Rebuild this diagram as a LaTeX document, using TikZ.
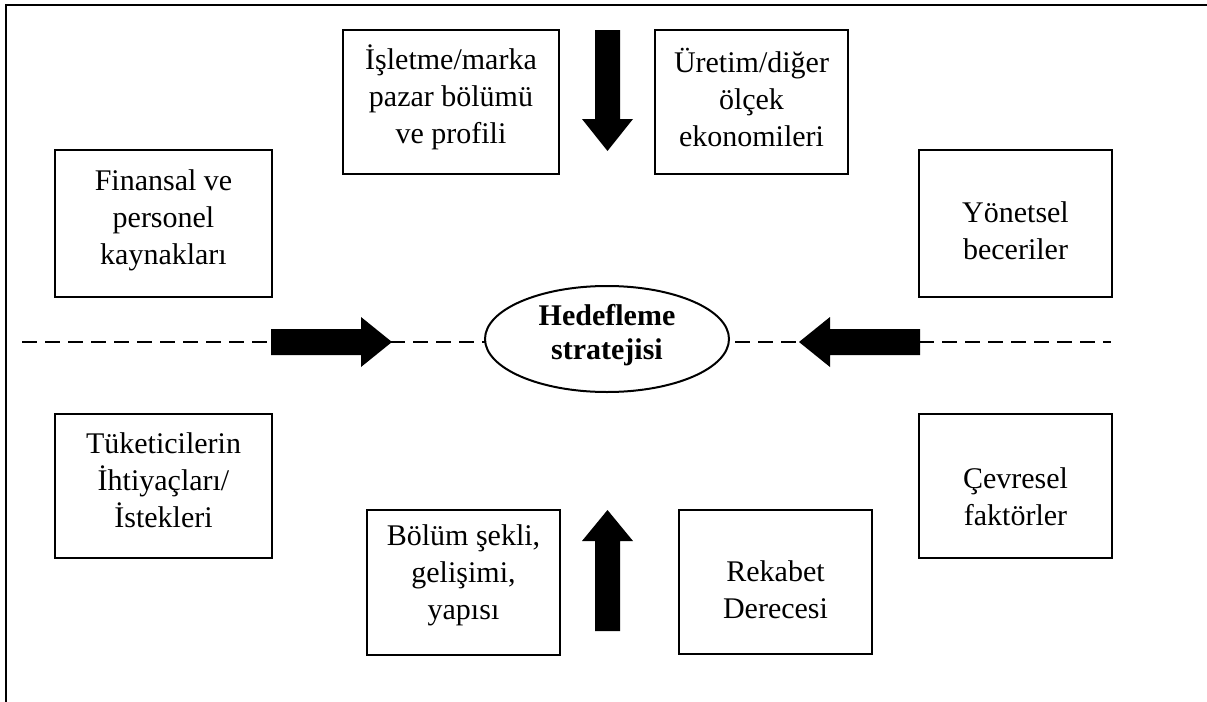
\documentclass[tikz,border=0pt]{standalone}
\usepackage{fontspec}
\setmainfont{Liberation Serif}
\usetikzlibrary{shapes.geometric}
\begin{document}
\begin{tikzpicture}[x=0.5pt,y=-0.5pt,
  frame/.style={line width=1pt},
  box/.style 2 args={draw, line width=1pt, inner sep=0pt,
    minimum width=#1*0.5pt, minimum height=#2*0.5pt},
  lbl/.style={align=center, inner sep=0pt,
    font=\fontsize{15}{18.5}\selectfont},
  core/.style={draw, ellipse, fill=white, line width=1pt, inner sep=0pt,
    minimum width=122pt, minimum height=53pt},
  corelbl/.style={align=center, inner sep=0pt,
    font=\fontsize{15}{17}\selectfont\bfseries},
  axis/.style={line width=1pt, dash pattern=on 7.5pt off 4pt},
  blockarrow/.style={fill=black}]
\useasboundingbox (0,0) rectangle (1207,702);

% open frame: top and left edges only
\coordinate (fr-bl) at (6,702);
\coordinate (fr-tl) at (6,5);
\coordinate (fr-tr) at (1207,5);
\draw[frame] (fr-bl) -- (fr-tl) -- (fr-tr);

% dashed horizontal axis through the centre
\coordinate (ax-l) at (22,342);
\coordinate (ax-r) at (1111,342);
\draw[axis] (ax-l) -- (ax-r);

% factor boxes
\node[box={216}{144}] (isl) at (451,102) {};
\node[box={193}{144}] (ure) at (751.5,102) {};
\node[box={217}{147}] (fin) at (163.5,223.5) {};
\node[box={193}{147}] (yon) at (1015.5,223.5) {};
\node[box={217}{144}] (tuk) at (163.5,486) {};
\node[box={193}{144}] (cev) at (1015.5,486) {};
\node[box={193}{145}] (bol) at (463.5,582.5) {};
\node[box={193}{144}] (rek) at (775.5,582) {};

% box texts
\node[lbl] (isl-t) at (451,97) {İşletme/marka\\pazar bölümü\\ve profili};
\node[lbl] (ure-t) at (751.5,97) {Üretim/diğer\\ölçek\\ekonomileri};
\node[lbl] (fin-t) at (163.5,220) {Finansal ve\\personel\\kaynakları};
\node[lbl] (yon-t) at (1015.5,231) {Yönetsel\\beceriler};
\node[lbl] (tuk-t) at (163.5,480) {Tüketicilerin\\İhtiyaçları/\\İstekleri};
\node[lbl] (cev-t) at (1015.5,497) {Çevresel\\faktörler};
\node[lbl] (bol-t) at (463.5,575) {Bölüm şekli,\\gelişimi,\\yapısı};
\node[lbl] (rek-t) at (775.5,590) {Rekabet\\Derecesi};

% central ellipse
\node[core] (hed) at (607,339) {};
\node[corelbl] (hed-t) at (607,335) {Hedefleme\\stratejisi};

% block arrows pointing at the centre
% from the top
\fill[blockarrow] (595,30) -- (620,30) -- (620,119) -- (633,119)
  -- (607.5,151) -- (582,119) -- (595,119) -- cycle;
% from the bottom
\fill[blockarrow] (595,631) -- (620,631) -- (620,541) -- (633,541)
  -- (607.5,510) -- (582,541) -- (595,541) -- cycle;
% from the left
\fill[blockarrow] (271,329) -- (361,329) -- (361,317) -- (392,342)
  -- (361,367) -- (361,355) -- (271,355) -- cycle;
% from the right
\fill[blockarrow] (920,329) -- (830,329) -- (830,317) -- (799,342)
  -- (830,367) -- (830,355) -- (920,355) -- cycle;
\end{tikzpicture}
\end{document}
